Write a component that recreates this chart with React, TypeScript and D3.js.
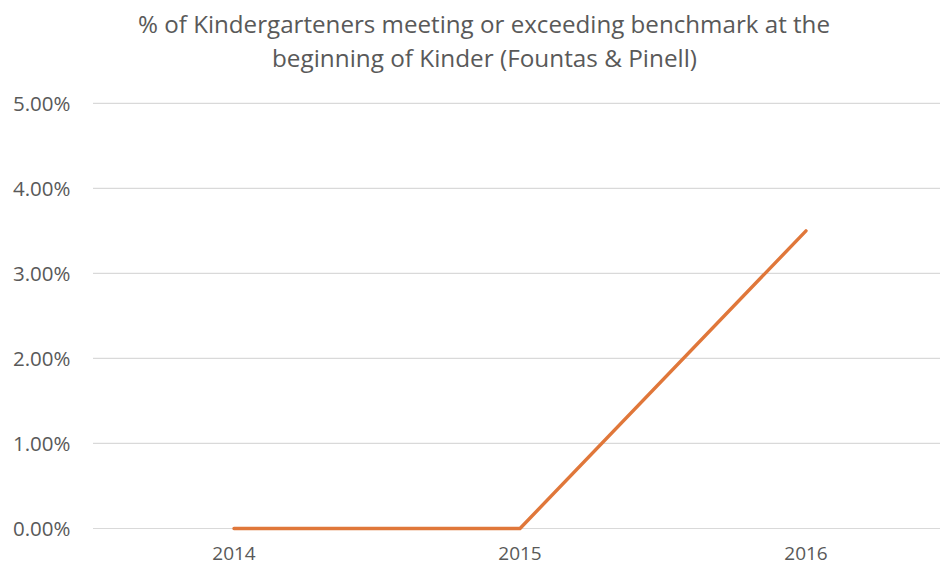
import React from "react";
import * as d3 from "d3";

const categories: string[] = ["2014", "2015", "2016"];
const values: number[] = [0, 0, 0.035];
const yTicks: number[] = [0, 0.01, 0.02, 0.03, 0.04, 0.05];
const titleLines: string[] = [
  "% of Kindergarteners meeting or exceeding benchmark at the",
  "beginning of Kinder (Fountas & Pinell)",
];

const W = 940;
const H = 566;

export default function App() {
  const x = d3.scaleBand<string>().domain(categories).range([91, 949]).padding(0);
  const y = d3.scaleLinear().domain([0, 0.05]).range([528.5, 103.3]);
  const fmt = d3.format(".2%");
  const line = d3
    .line<number>()
    .x((_, i) => (x(categories[i]) as number) + x.bandwidth() / 2)
    .y((d) => y(d));

  const textColor = "#595959";
  const font = "'Open Sans', sans-serif";

  return (
    <div style={{ position: "absolute", left: 0, top: 0, width: W, height: H, background: "#fff" }}>
      <svg width={W} height={H} style={{ display: "block" }}>
        <rect x={0} y={0} width={W} height={H} fill="#ffffff" />
        <text
          x={484}
          y={33}
          textAnchor="middle"
          fontFamily={font}
          fontSize={24}
          fill={textColor}
          textLength={692}
          lengthAdjust="spacingAndGlyphs"
        >
          {titleLines[0]}
        </text>
        <text
          x={484.5}
          y={67}
          textAnchor="middle"
          fontFamily={font}
          fontSize={24}
          fill={textColor}
          textLength={425}
          lengthAdjust="spacingAndGlyphs"
        >
          {titleLines[1]}
        </text>
        {yTicks.map((t) => (
          <g key={t}>
            <line x1={93} x2={W} y1={y(t)} y2={y(t)} stroke="#d9d9d9" strokeWidth={1.2} />
            <text
              x={70.5}
              y={y(t)}
              dy="0.36em"
              textAnchor="end"
              fontFamily={font}
              fontSize={20.5}
              fill={textColor}
            >
              {fmt(t)}
            </text>
          </g>
        ))}
        {categories.map((c) => (
          <text
            key={c}
            x={(x(c) as number) + x.bandwidth() / 2}
            y={560}
            textAnchor="middle"
            fontFamily={font}
            fontSize={19}
            fill={textColor}
          >
            {c}
          </text>
        ))}
        <path
          d={line(values) || ""}
          fill="none"
          stroke="#E0773A"
          strokeWidth={3.4}
          strokeLinecap="round"
          strokeLinejoin="round"
        />
      </svg>
    </div>
  );
}
